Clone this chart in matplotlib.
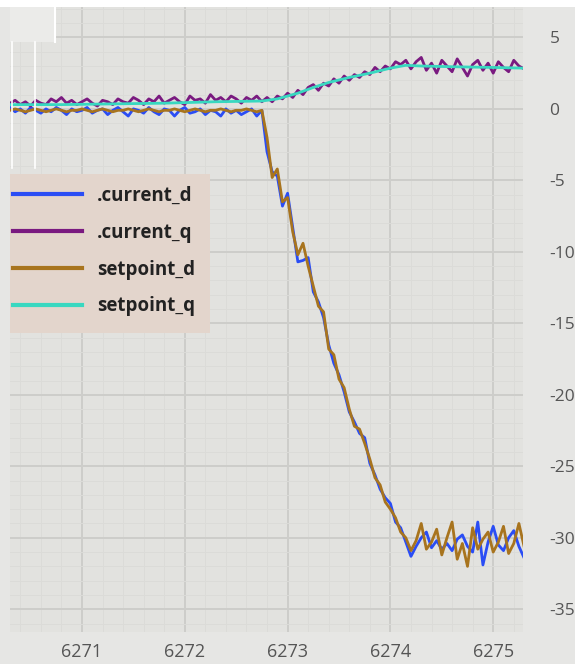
import numpy as np
import matplotlib
matplotlib.use("Agg")
import matplotlib.pyplot as plt
from matplotlib.patches import Rectangle
from matplotlib.ticker import MultipleLocator, FormatStrFormatter

plt.rcParams["axes.unicode_minus"] = False

# sample times [s]
t = [6270.30, 6270.35, 6270.40, 6270.45, 6270.50, 6270.55, 6270.60, 6270.65, 6270.70, 6270.75,
     6270.80, 6270.85, 6270.90, 6270.95, 6271.00, 6271.05, 6271.10, 6271.15, 6271.20, 6271.25,
     6271.30, 6271.35, 6271.40, 6271.45, 6271.50, 6271.55, 6271.60, 6271.65, 6271.70, 6271.75,
     6271.80, 6271.85, 6271.90, 6271.95, 6272.00, 6272.05, 6272.10, 6272.15, 6272.20, 6272.25,
     6272.30, 6272.35, 6272.40, 6272.45, 6272.50, 6272.55, 6272.60, 6272.65, 6272.70, 6272.75,
     6272.80, 6272.85, 6272.90, 6272.95, 6273.00, 6273.05, 6273.10, 6273.15, 6273.20, 6273.25,
     6273.30, 6273.35, 6273.40, 6273.45, 6273.50, 6273.55, 6273.60, 6273.65, 6273.70, 6273.75,
     6273.80, 6273.85, 6273.90, 6273.95, 6274.00, 6274.05, 6274.10, 6274.15, 6274.20, 6274.25,
     6274.30, 6274.35, 6274.40, 6274.45, 6274.50, 6274.55, 6274.60, 6274.65, 6274.70, 6274.75,
     6274.80, 6274.85, 6274.90, 6274.95, 6275.00, 6275.05, 6275.10, 6275.15, 6275.20, 6275.25,
     6275.30]

current_d = [0.1, -0.2, 0.0, -0.3, 0.1, -0.1, -0.3, 0.0, -0.2, 0.1,
             -0.1, -0.4, 0.0, -0.2, -0.1, 0.1, -0.3, -0.1, 0.0, -0.4,
             -0.1, 0.1, -0.2, -0.5, 0.0, -0.1, -0.3, 0.1, -0.2, -0.4,
             0.0, -0.1, -0.5, -0.1, 0.1, -0.3, -0.2, 0.0, -0.4, -0.1,
             -0.2, -0.5, 0.0, -0.3, -0.1, -0.4, -0.2, 0.0, -0.5, -0.1,
             -3.0, -4.4, -4.7, -6.8, -5.9, -8.3, -10.7, -10.6, -10.4, -12.8,
             -13.5, -14.6, -16.5, -17.8, -18.6, -19.8, -21.2, -21.9, -22.7, -23.0,
             -24.8, -25.6, -26.6, -27.2, -27.6, -28.9, -29.3, -30.3, -31.3, -30.6,
             -30.0, -29.6, -30.7, -30.2, -30.8, -30.4, -30.9, -30.1, -29.8, -30.6,
             -31.0, -28.9, -31.9, -30.3, -29.2, -30.5, -30.9, -30.0, -29.5, -30.6,
             -31.4]

current_q = [0.4, 0.6, 0.3, 0.5, 0.2, 0.6, 0.4, 0.3, 0.7, 0.5,
             0.8, 0.4, 0.6, 0.3, 0.5, 0.7, 0.4, 0.2, 0.6, 0.5,
             0.3, 0.7, 0.5, 0.4, 0.8, 0.6, 0.3, 0.7, 0.5, 0.9,
             0.4, 0.6, 0.8, 0.5, 0.3, 0.9, 0.6, 0.7, 0.4, 1.0,
             0.6, 0.8, 0.5, 0.9, 0.7, 0.4, 0.8, 0.6, 0.9, 0.5,
             0.8, 0.5, 0.9, 0.7, 1.1, 0.8, 1.3, 1.0, 1.5, 1.7,
             1.3, 1.8, 1.6, 2.1, 1.8, 2.3, 2.0, 2.4, 2.2, 2.6,
             2.4, 2.9, 2.6, 3.0, 2.8, 3.3, 3.1, 3.4, 2.8, 3.3,
             3.6, 2.7, 3.2, 2.5, 3.4, 3.0, 2.6, 3.5, 2.9, 2.3,
             3.1, 3.4, 2.7, 3.2, 2.5, 3.3, 2.9, 2.6, 3.4, 3.0,
             2.8]

setpoint_d = [-0.1, 0.0, -0.1, -0.2, -0.1, 0.0, -0.1, -0.2, -0.1, 0.0,
              -0.1, -0.2, -0.1, -0.1, 0.0, -0.1, -0.2, -0.1, 0.0, -0.1,
              -0.2, -0.1, -0.1, 0.0, -0.1, -0.2, -0.1, 0.0, -0.1, -0.2,
              -0.1, -0.1, 0.0, -0.1, -0.2, -0.1, 0.0, -0.1, -0.2, -0.1,
              -0.1, 0.0, -0.1, -0.2, -0.1, -0.1, 0.0, -0.1, -0.2, -0.1,
              -2.0, -4.8, -4.2, -6.5, -6.2, -8.6, -10.2, -9.4, -11.0, -12.4,
              -13.8, -14.2, -16.8, -17.2, -18.9, -19.5, -21.0, -22.2, -22.4, -23.4,
              -24.5, -25.8, -26.3, -27.5, -28.0, -28.6, -29.6, -30.0, -30.9, -30.2,
              -29.0, -30.8, -30.3, -29.4, -31.2, -30.0, -28.9, -31.5, -30.4, -32.0,
              -29.3, -30.8, -30.1, -29.6, -31.0, -30.3, -29.2, -31.1, -30.4, -29.0,
              -30.6]

# q-axis setpoint is a smooth ramp, fewer samples
t_sq = [6270.30, 6270.80, 6271.30, 6271.80, 6272.30, 6272.75, 6272.90, 6273.10, 6273.25,
        6273.40, 6273.60, 6273.80, 6274.00, 6274.15, 6274.30, 6274.60, 6275.00, 6275.30]
setpoint_q = [0.3, 0.3, 0.35, 0.4, 0.5, 0.55, 0.7, 1.1, 1.5,
              1.85, 2.2, 2.5, 2.85, 3.05, 3.0, 2.95, 2.9, 2.85]

fig = plt.figure(figsize=(5.75, 6.64), dpi=100, facecolor="white")
fig.patches.append(Rectangle((0, 0), 1, 0.9895, transform=fig.transFigure,
                             facecolor="#e6e6e4", edgecolor="none", zorder=-10))
ax = fig.add_axes([0.0174, 0.048, 0.8922, 0.9415])
ax.set_facecolor("#e2e2df")

ax.plot(t, current_d, color="#2a4df5", lw=2.0, label=".current_d")
ax.plot(t, current_q, color="#7a1a80", lw=2.0, label=".current_q")
ax.plot(t, setpoint_d, color="#a8741e", lw=2.0, label="setpoint_d")
ax.plot(t_sq, setpoint_q, color="#38d8c0", lw=2.0, label="setpoint_q")

ax.set_xlim(6270.30, 6275.29)
ax.set_ylim(-36.6, 7.13)

ax.xaxis.set_major_locator(MultipleLocator(1))
ax.xaxis.set_minor_locator(MultipleLocator(0.2))
ax.yaxis.set_major_locator(MultipleLocator(5))
ax.yaxis.set_minor_locator(MultipleLocator(1))
ax.xaxis.set_major_formatter(FormatStrFormatter("%d"))
ax.grid(True, which="major", color="#cdcdca", lw=1.4)
ax.grid(True, which="minor", color="#dbdbd8", lw=0.7)
ax.set_axisbelow(True)

ax.yaxis.tick_right()
ax.tick_params(which="both", length=0)
ax.tick_params(axis="y", pad=19, labelsize=12.5, labelcolor="#555555")
ax.tick_params(axis="x", pad=8, labelsize=13, labelcolor="#555555")
for lab in ax.get_xticklabels() + ax.get_yticklabels():
    lab.set_family("Open Sans")
for s in ax.spines.values():
    s.set_visible(False)

# stray cursor marks at the top left
ax.add_patch(Rectangle((0, 0.944), 0.088, 0.06, transform=ax.transAxes,
                       facecolor="#ebebe9", edgecolor="none", zorder=2))
ax.plot([0.088, 0.088], [0.944, 1.0], transform=ax.transAxes, color="white", lw=1.5, zorder=3)
ax.plot([0.004, 0.004], [0.742, 0.944], transform=ax.transAxes, color="white", lw=1.2, zorder=3)
ax.plot([0.049, 0.049], [0.742, 0.944], transform=ax.transAxes, color="white", lw=1.2, zorder=3)

# legend panel
ax.add_patch(Rectangle((0, 0.478), 0.39, 0.255, transform=ax.transAxes,
                       facecolor="#e3d5cc", edgecolor="none", zorder=4))
leg = ax.legend(loc="upper left", bbox_to_anchor=(0.005, 0.714), frameon=False,
                handlelength=3.7, handletextpad=0.8, labelspacing=0.9,
                borderpad=0.0, borderaxespad=0.0,
                prop={"family": "Open Sans", "weight": "bold", "size": 13.5})
leg.set_zorder(5)
for ln in leg.get_lines():
    ln.set_linewidth(3)
for txt in leg.get_texts():
    txt.set_color("#222222")

fig.savefig("out.png", dpi=100, facecolor=fig.get_facecolor())
